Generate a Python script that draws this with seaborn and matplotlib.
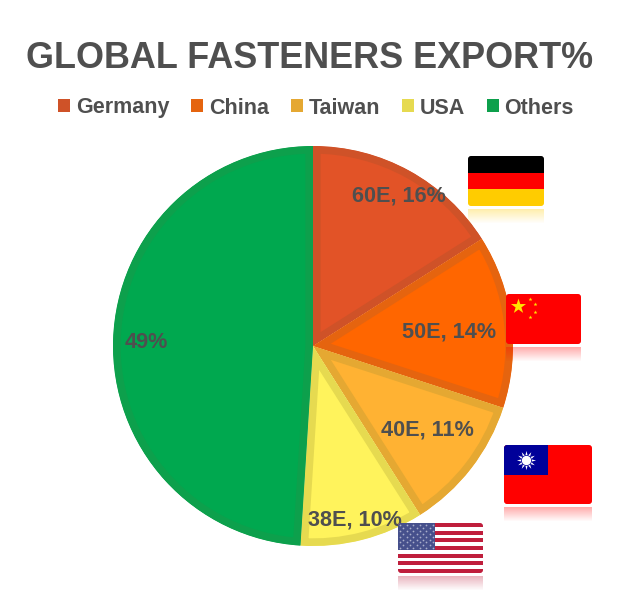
import matplotlib
matplotlib.use("Agg")
import matplotlib.pyplot as plt
import seaborn as sns
from matplotlib.patches import FancyBboxPatch, Patch, Rectangle

# Data
countries = ["Germany", "China", "Taiwan", "USA", "Others"]
shares = [16, 14, 11, 10, 49]
slice_labels = ["60E, 16%", "50E, 14%", "40E, 11%", "38E, 10%", "49%"]
fill_colors = ["#E25327", "#FF6600", "#FFB233", "#FFF35C", "#00A84F"]
edge_colors = ["#CF5228", "#E5640F", "#E5A832", "#E6DA50", "#0DA04C"]
title = "GLOBAL FASTENERS EXPORT%"

# Pixel centres of the slice labels
label_spots = [(399, 196), (449, 332), (427, 430), (355, 520), (146, 342)]

TEXT_COLOR = "#4F4F4F"


# Flag body with rounded corners and a faded reflection under it
def flag_base(ax, x, y, w, h, reflect_color):
    box = FancyBboxPatch((x + 3, y + 3), w - 6, h - 6, boxstyle="round,pad=3,rounding_size=3",
                         facecolor="none", edgecolor="none", zorder=5)
    ax.add_patch(box)
    steps = 14
    for i in range(steps):
        alpha = 0.32 * (1 - i / steps)
        ax.add_patch(Rectangle((x, y + h + 3 + i), w, 1, facecolor=reflect_color,
                               alpha=alpha, edgecolor="none", zorder=5))
    return box


def stripe(ax, box, x, y, w, h, color):
    r = Rectangle((x, y), w, h, facecolor=color, edgecolor="none", zorder=6)
    ax.add_patch(r)
    r.set_clip_path(box)


def draw_germany(ax):
    x, y, w, h = 468, 156, 76, 50
    box = flag_base(ax, x, y, w, h, "#FFCC00")
    for i, c in enumerate(["#000000", "#FF0000", "#FFCC00"]):
        stripe(ax, box, x, y + i * h / 3, w, h / 3 + 0.5, c)


def draw_china(ax):
    x, y, w, h = 506, 294, 75, 50
    box = flag_base(ax, x, y, w, h, "#FF0000")
    stripe(ax, box, x, y, w, h, "#FF0000")
    ax.scatter([518], [306], marker="*", s=130, color="#FFE600", linewidths=0, zorder=7)
    ax.scatter([530, 535, 535, 530], [299, 304, 312, 317], marker="*", s=9,
               color="#FFE600", linewidths=0, zorder=7)


def draw_taiwan(ax):
    x, y, w, h = 504, 445, 88, 59
    box = flag_base(ax, x, y, w, h, "#FF0000")
    stripe(ax, box, x, y, w, h, "#FF0000")
    stripe(ax, box, x, y, w / 2, h / 2, "#000099")
    ax.scatter([526], [460], marker=(12, 1, 0), s=190, color="white", linewidths=0, zorder=7)
    ax.scatter([526], [460], marker="o", s=62, color="#000099", linewidths=0, zorder=7)
    ax.scatter([526], [460], marker="o", s=46, color="white", linewidths=0, zorder=7)


def draw_usa(ax):
    x, y, w, h = 398, 523, 85, 50
    box = flag_base(ax, x, y, w, h, "#BF1E3C")
    stripe(ax, box, x, y, w, h, "white")
    for i in range(0, 13, 2):
        stripe(ax, box, x, y + i * h / 13, w, h / 13, "#BF1E3C")
    stripe(ax, box, x, y, w * 0.44, h * 7 / 13, "#46508C")
    for row in range(9):
        for col in range(11):
            if (row + col) % 2 == 0:
                ax.scatter([x + 2 + col * 3.3], [y + 2 + row * 2.9], marker="o", s=1.6,
                           color="#A9AECB", linewidths=0, zorder=7)


def main():
    sns.set_theme(style="white")
    plt.rcParams["font.family"] = ["Liberation Sans", "DejaVu Sans"]

    fig = plt.figure(figsize=(6.19, 6.15), dpi=100)

    # Pie: centre (313, 346) px, radius 200 px
    pie_ax = fig.add_axes([113 / 619, (615 - 546) / 615, 400 / 619, 400 / 615], frame_on=False)
    wedges, _ = pie_ax.pie(shares, colors=sns.color_palette(fill_colors), startangle=90,
                           counterclock=False, radius=1)
    pie_ax.set_xlim(-1, 1)
    pie_ax.set_ylim(-1, 1)
    for wedge, edge in zip(wedges, edge_colors):
        # stroke clipped to the wedge so it only shows on the inside
        wedge.set_edgecolor(edge)
        wedge.set_linewidth(11)
        wedge.set_joinstyle("miter")
        wedge.set_clip_on(True)
        wedge.set_clip_path(wedge)

    # Overlay in pixel coordinates for labels and flags
    over = fig.add_axes([0, 0, 1, 1], frame_on=False)
    over.set_xlim(0, 619)
    over.set_ylim(615, 0)
    over.set_xticks([])
    over.set_yticks([])
    over.patch.set_alpha(0)

    for text, (px, py) in zip(slice_labels, label_spots):
        over.text(px, py, text, ha="center", va="center", fontsize=15.6, fontweight="bold",
                  color=TEXT_COLOR, zorder=4)

    draw_germany(over)
    draw_china(over)
    draw_taiwan(over)
    draw_usa(over)

    over.text(309.5, 58, title, ha="center", va="center", fontsize=25.9, fontweight="bold",
              color=TEXT_COLOR)

    handles = [Patch(facecolor=c, edgecolor="none") for c in edge_colors]
    leg = fig.legend(handles, countries, ncols=5, loc="center", bbox_to_anchor=(316 / 619, 1 - 108 / 615),
                     frameon=False, fontsize=15.5, handlelength=0.56, handleheight=0.56,
                     handletextpad=0.25, columnspacing=1.03, borderpad=0)
    for t in leg.get_texts():
        t.set_color(TEXT_COLOR)
        t.set_fontweight("bold")

    fig.savefig("out.png", dpi=100, facecolor="white")


if __name__ == "__main__":
    main()
